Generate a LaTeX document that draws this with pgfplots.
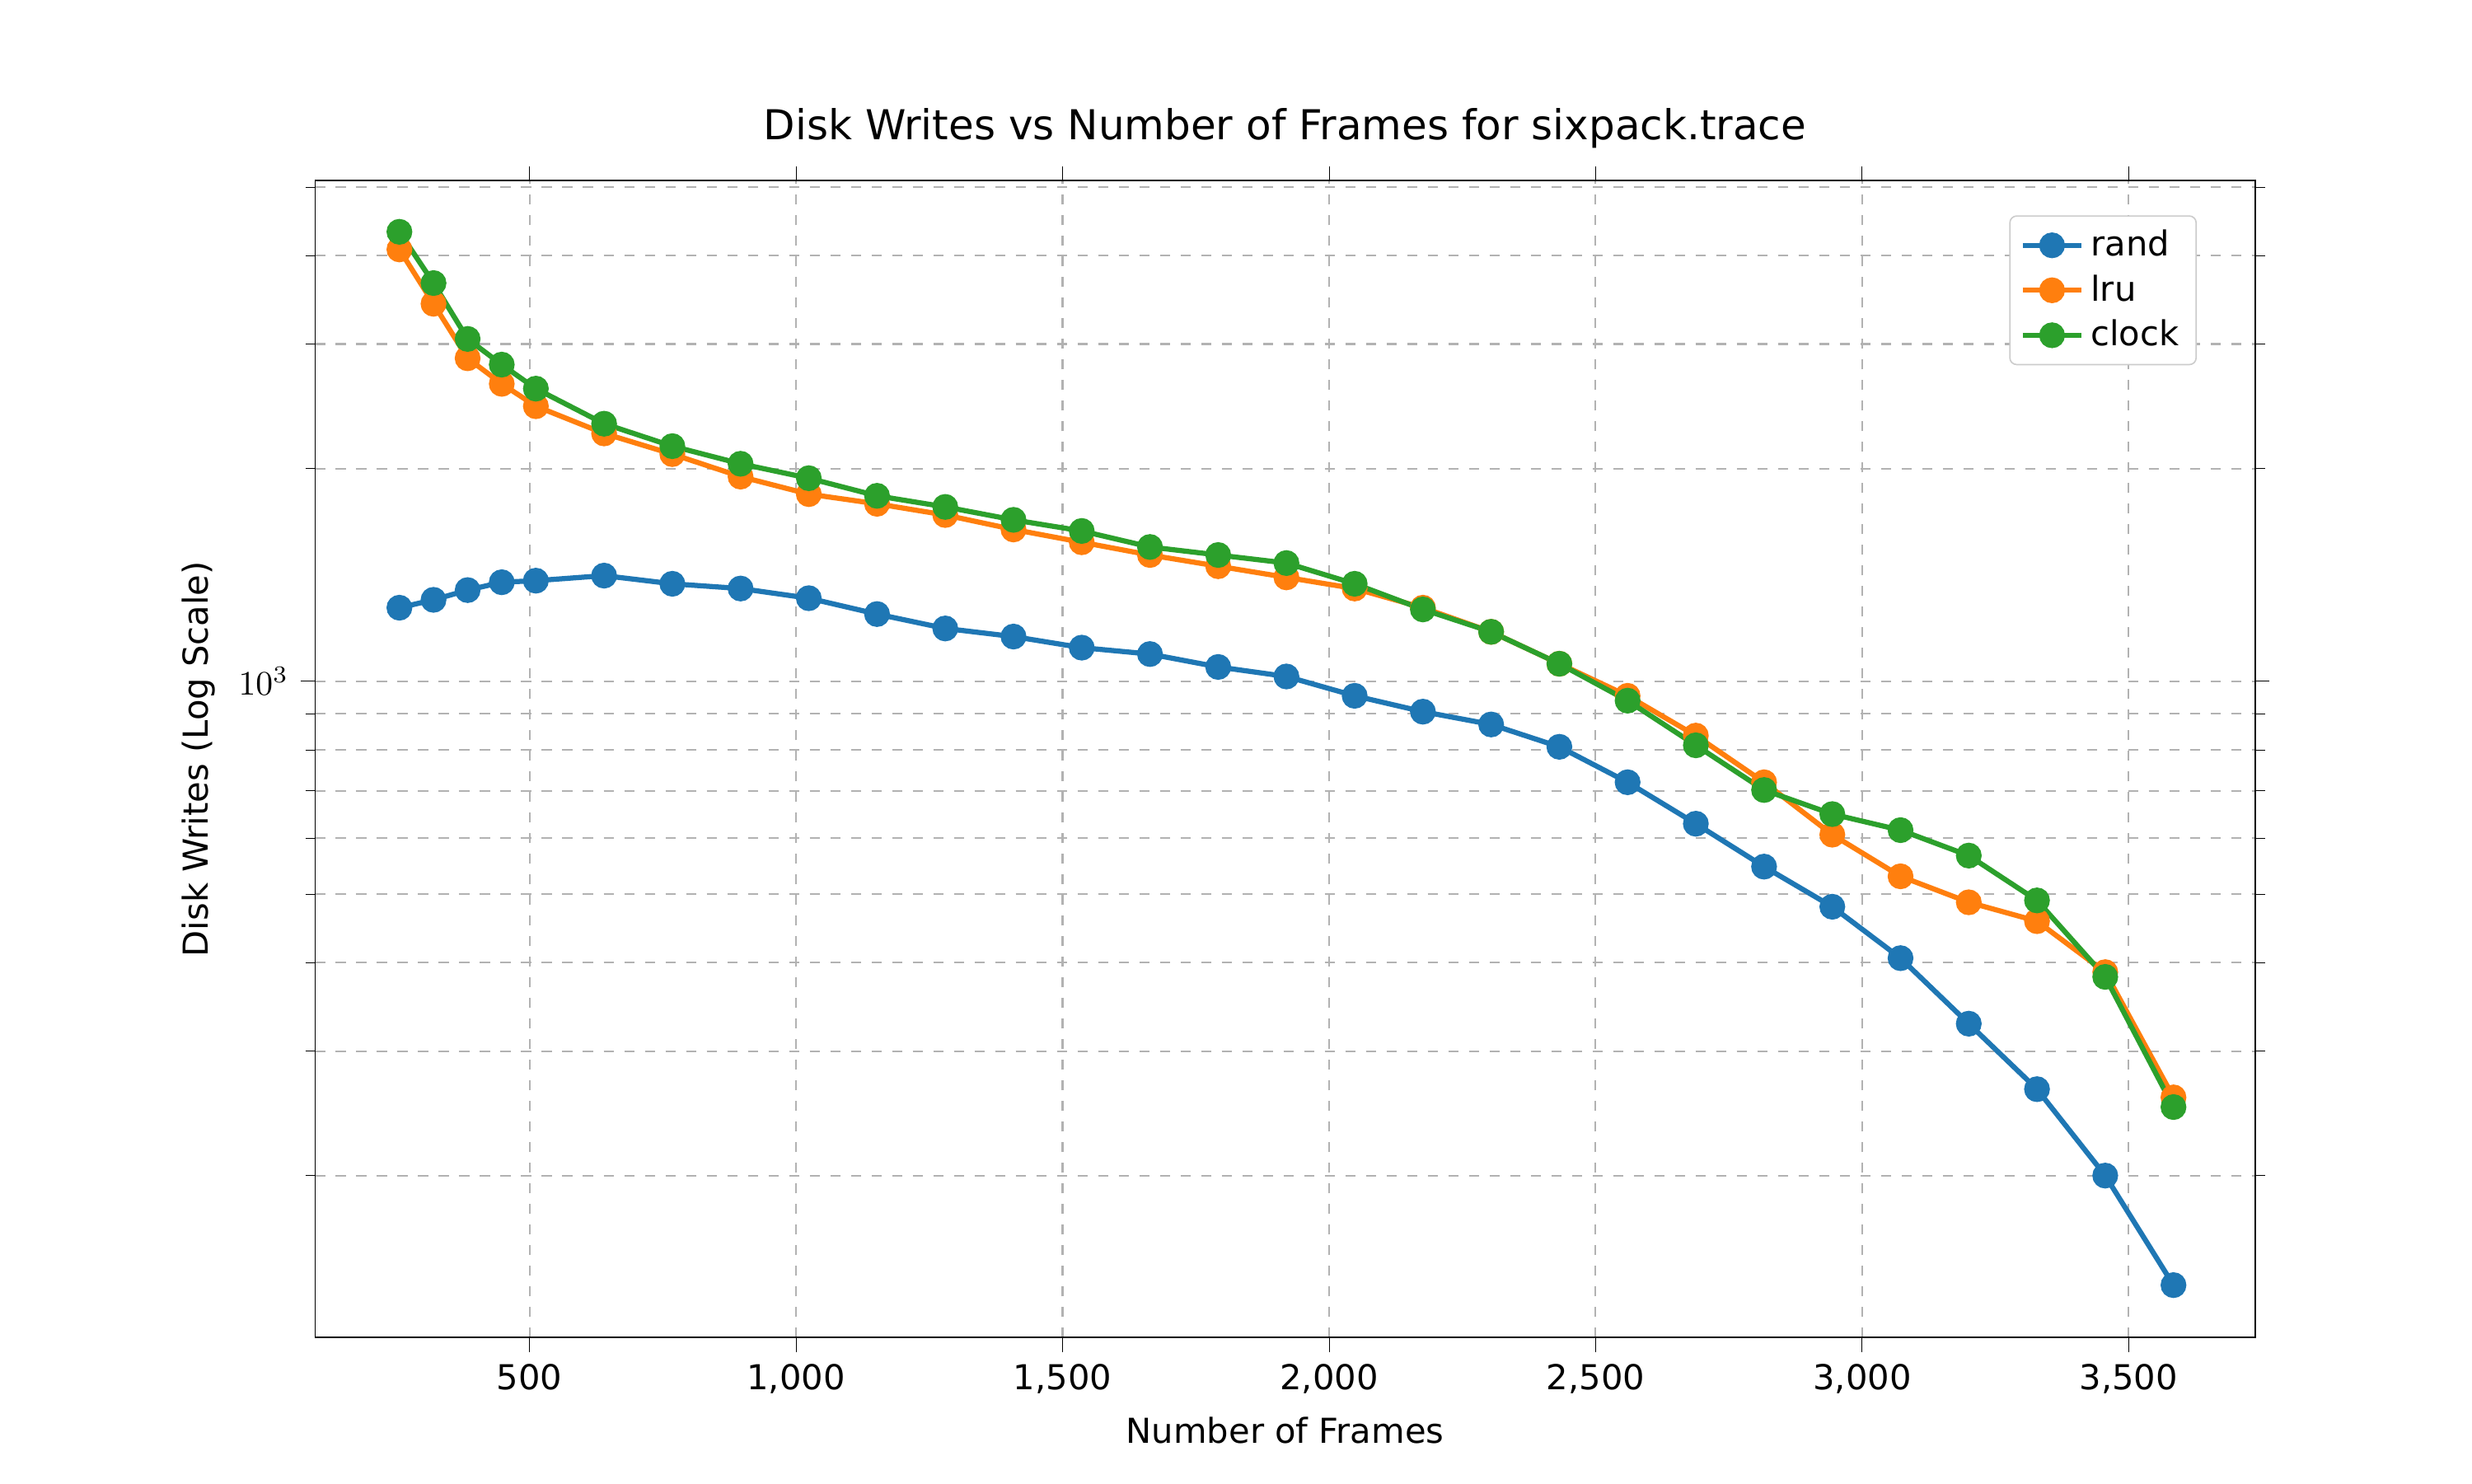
\documentclass[border=0pt]{standalone}
\usepackage{pgfplots}
\pgfplotsset{compat=1.18}
\usepackage{fontspec}
\setmainfont{DejaVu Sans}
\definecolor{c0}{HTML}{1F77B4}
\definecolor{c1}{HTML}{FF7F0E}
\definecolor{c2}{HTML}{2CA02C}
\begin{document}
\begin{tikzpicture}
\path[use as bounding box] (-91.8pt,-42.4pt) rectangle (628.2pt,389.6pt);
\begin{axis}[
  at={(0,0)}, anchor=south west, scale only axis,
  width=565pt, height=337pt,
  ymode=log, xmin=98, xmax=3737, ymin=118, ymax=5108,
  xtick={500,1000,1500,2000,2500,3000,3500},
  ytick={1000}, yticklabels={$10^3$},
  minor ytick={200,300,400,500,600,700,800,900,2000,3000,4000,5000},
  grid=both,
  major grid style={gray!60, dashed, line width=0.5pt},
  minor grid style={gray!60, dashed, line width=0.5pt},
  tick align=outside, tick style={black},
  /pgf/number format/assume math mode=true,
  tick label style={font=\fontsize{10}{12}\selectfont},
  label style={font=\fontsize{10}{12}\selectfont},
  xlabel={Number of Frames}, ylabel={Disk Writes (Log Scale)},
  title={Disk Writes vs Number of Frames for sixpack.trace},
  title style={font=\fontsize{12}{14}\selectfont},
  legend pos=north east,
  legend style={font=\fontsize{10}{12}\selectfont, draw=gray!40, rounded corners=2pt},
  legend cell align=left,
  every axis plot/.append style={line width=1.5pt, mark=*, mark size=3pt},
]
\addplot[color=c0, mark options={fill=c0}] coordinates {
(256,1271)(320,1304)(384,1346)(448,1381)(512,1388)(640,1411)(768,1374)(896,1353)(1024,1311)(1152,1245)(1280,1188)(1408,1157)(1536,1116)(1664,1093)(1792,1048)(1920,1016)(2048,954)(2176,906)(2304,869)(2432,808)(2560,720)(2688,629)(2816,547)(2944,480)(3072,406)(3200,328)(3328,265)(3456,200)(3584,140)};
\addlegendentry{rand}
\addplot[color=c1, mark options={fill=c1}] coordinates {
(256,4082)(320,3420)(384,2864)(448,2635)(512,2450)(640,2242)(768,2096)(896,1948)(1024,1840)(1152,1783)(1280,1719)(1408,1640)(1536,1573)(1664,1509)(1792,1455)(1920,1403)(2048,1353)(2176,1271)(2304,1175)(2432,1059)(2560,954)(2688,838)(2816,720)(2944,607)(3072,530)(3200,487)(3328,458)(3456,388)(3584,258)};
\addlegendentry{lru}
\addplot[color=c2, mark options={fill=c2}] coordinates {
(256,4323)(320,3659)(384,3050)(448,2805)(512,2594)(640,2314)(768,2151)(896,2031)(1024,1938)(1152,1830)(1280,1765)(1408,1692)(1536,1632)(1664,1549)(1792,1509)(1920,1470)(2048,1374)(2176,1264)(2304,1175)(2432,1059)(2560,939)(2688,812)(2816,702)(2944,649)(3072,616)(3200,567)(3328,490)(3456,382)(3584,250)};
\addlegendentry{clock}
\end{axis}
\end{tikzpicture}
\end{document}
